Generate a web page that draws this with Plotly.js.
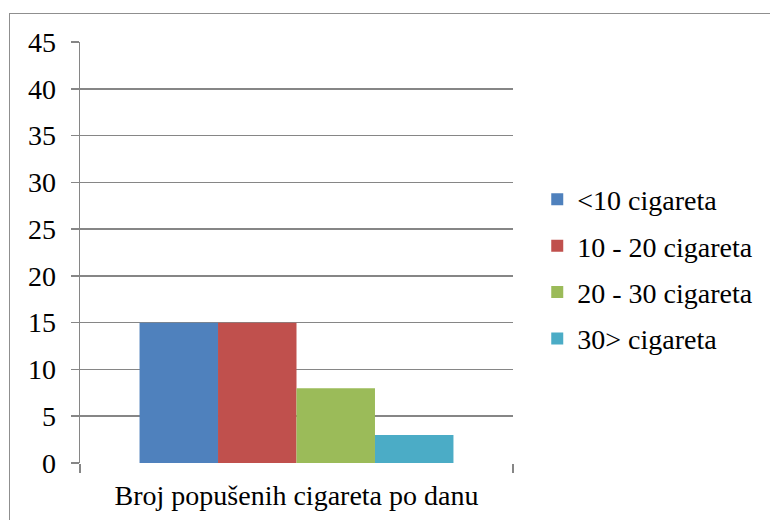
<!DOCTYPE html>
<html>
<head>
<meta charset="utf-8">
<script src="https://cdn.plot.ly/plotly-3.0.1.min.js"></script>
<style>
  html, body { margin: 0; padding: 0; background: #fff; }
  #wrap { position: relative; width: 770px; height: 520px; overflow: hidden; }
  #chart { position: absolute; left: 0; top: 0; width: 770px; height: 520px; }
  #frame { position: absolute; left: 9px; top: 13px; width: 800px; height: 600px;
           border-top: 1.5px solid #8f8f8f; border-left: 1.5px solid #8f8f8f; pointer-events: none; }
</style>
</head>
<body>
<div id="wrap">
  <div id="chart"></div>
  <div id="frame"></div>
</div>
<script>
const categories = ["Broj popušenih cigareta po danu"];
const seriesNames = ["<10 cigareta", "10 - 20 cigareta", "20 - 30 cigareta", "30> cigareta"];
const seriesValues = [[15], [15], [8], [3]];
const seriesColors = ["#4F81BD", "#C0504D", "#9BBB59", "#4BACC6"];
const yTicks = [0, 5, 10, 15, 20, 25, 30, 35, 40, 45];

const FONT = "'Liberation Serif', 'Times New Roman', serif";
const FS = 28;

const traces = seriesNames.map((name, i) => ({
  type: "bar",
  name: name,
  x: categories,
  y: seriesValues[i],
  marker: { color: seriesColors[i], line: { width: 0 } },
  legendgroup: "g" + i,
  hoverinfo: "name+y"
}));

const layout = {
  width: 770,
  height: 520,
  paper_bgcolor: "rgba(0,0,0,0)",
  plot_bgcolor: "#fff",
  margin: { l: 80, r: 255, t: 42, b: 56.5, pad: 0 },
  barmode: "group",
  bargap: 0.275,
  bargroupgap: 0,
  showlegend: true,
  font: { family: FONT, size: FS, color: "#000" },
  xaxis: {
    type: "category",
    tickson: "boundaries",
    ticks: "outside",
    ticklen: 9,
    tickwidth: 1.5,
    tickcolor: "#868686",
    showline: false,
    showgrid: false,
    zeroline: false,
    tickfont: { family: FONT, size: FS, color: "#000" },
    ticklabelstandoff: 13,
    fixedrange: true
  },
  yaxis: {
    range: [0, 45],
    tickvals: yTicks,
    ticktext: yTicks.map(String),
    ticks: "outside",
    ticklen: 8,
    tickwidth: 1.5,
    tickcolor: "#868686",
    showline: true,
    linecolor: "#868686",
    linewidth: 1.5,
    showgrid: true,
    gridcolor: "#868686",
    gridwidth: 1.5,
    zeroline: false,
    tickfont: { family: FONT, size: FS, color: "#000" },
    ticklabelstandoff: 9,
    fixedrange: true
  },
  legend: {
    x: 1.056,
    xanchor: "left",
    y: 0.685,
    yanchor: "top",
    traceorder: "grouped",
    tracegroupgap: 7,
    font: { family: FONT, size: FS, color: "#000" },
    bgcolor: "rgba(0,0,0,0)",
    borderwidth: 0
  }
};

Plotly.newPlot("chart", traces, layout, { displayModeBar: false, staticPlot: true });
</script>
</body>
</html>
